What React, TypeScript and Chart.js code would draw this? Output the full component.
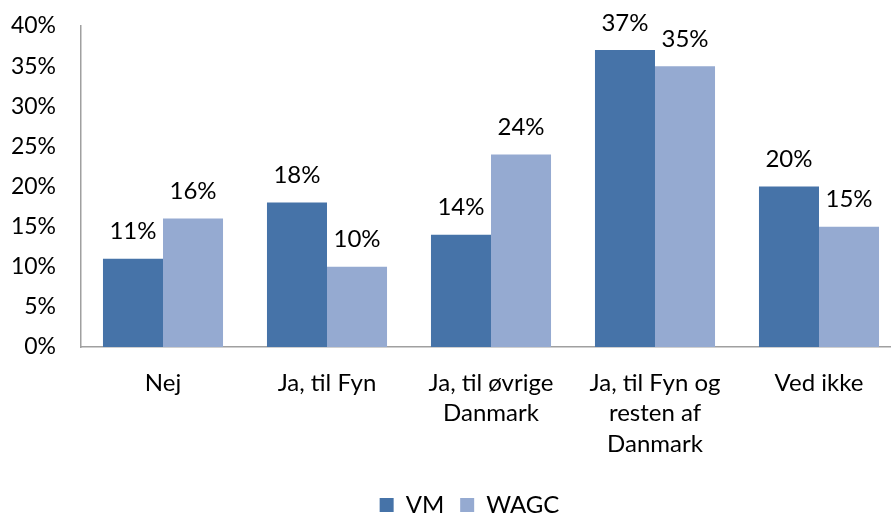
import React, { useEffect, useRef } from "react";
import { Chart, registerables } from "chart.js";

Chart.register(...registerables);

const categories: (string | string[])[] = [
  "Nej",
  "Ja, til Fyn",
  ["Ja, til øvrige", "Danmark"],
  ["Ja, til Fyn og", "resten af", "Danmark"],
  "Ved ikke",
];
const vmValues = [11, 18, 14, 37, 20];
const wagcValues = [16, 10, 24, 35, 15];
const yTicks = [0, 5, 10, 15, 20, 25, 30, 35, 40];

const FONT = "Lato, 'Open Sans', sans-serif";

const dataLabelPlugin = {
  id: "dataLabels",
  afterDatasetsDraw(chart: any) {
    const ctx = chart.ctx;
    ctx.save();
    ctx.font = `24px ${FONT}`;
    ctx.fillStyle = "#000";
    ctx.textAlign = "center";
    ctx.textBaseline = "middle";
    chart.data.datasets.forEach((ds: any, i: number) => {
      const meta = chart.getDatasetMeta(i);
      meta.data.forEach((bar: any, j: number) => {
        ctx.fillText(`${ds.data[j]}%`, bar.x, bar.y - 27);
      });
    });
    ctx.restore();
  },
};

const legendShiftPlugin = {
  id: "legendShift",
  afterLayout(chart: any) {
    if (chart.legend) {
      chart.legend.left += 19;
      chart.legend.right += 19;
    }
  },
};

export default function App() {
  const ref = useRef<HTMLCanvasElement>(null);
  useEffect(() => {
    if (!ref.current) return;
    const chart = new Chart(ref.current, {
      type: "bar",
      data: {
        labels: categories,
        datasets: [
          { label: "VM", data: vmValues, backgroundColor: "#4673A8" },
          { label: "WAGC", data: wagcValues, backgroundColor: "#95AAD1" },
        ],
      },
      options: {
        animation: false,
        responsive: false,
        devicePixelRatio: 1,
        layout: { padding: { top: 26, right: 31, bottom: 13, left: 0 } },
        datasets: { bar: { categoryPercentage: 0.732, barPercentage: 1 } },
        plugins: {
          tooltip: { enabled: false },
          legend: {
            position: "bottom",
            labels: {
              boxWidth: 14,
              boxHeight: 14,
              padding: 16,
              color: "#000",
              font: { family: FONT, size: 24 },
            },
          },
        },
        scales: {
          x: {
            grid: { display: false, drawTicks: false },
            border: { display: true, color: "#a0a0a0", width: 1.5 },
            ticks: {
              color: "#000",
              font: { family: FONT, size: 24, lineHeight: 1.27 },
              padding: 21,
              maxRotation: 0,
              autoSkip: false,
            },
            afterFit: (s: any) => {
              s.height = 130;
            },
          },
          y: {
            min: 0,
            max: 40,
            grid: { display: false, drawTicks: false },
            border: { display: true, color: "#a0a0a0", width: 1.5 },
            afterBuildTicks: (s: any) => {
              s.ticks = yTicks.map((v) => ({ value: v }));
            },
            ticks: {
              color: "#000",
              font: { family: FONT, size: 23 },
              padding: 25,
              callback: (v: any) => `${v}%`,
            },
            afterFit: (s: any) => {
              s.width = 81;
              s.paddingTop = 0;
              s.paddingBottom = 0;
            },
          },
        },
      },
      plugins: [dataLabelPlugin, legendShiftPlugin],
    });
    return () => chart.destroy();
  }, []);
  return (
    <div style={{ position: "fixed", left: 0, top: 0, width: 932, height: 540, background: "#fff" }}>
      <canvas ref={ref} width={932} height={540} />
    </div>
  );
}
